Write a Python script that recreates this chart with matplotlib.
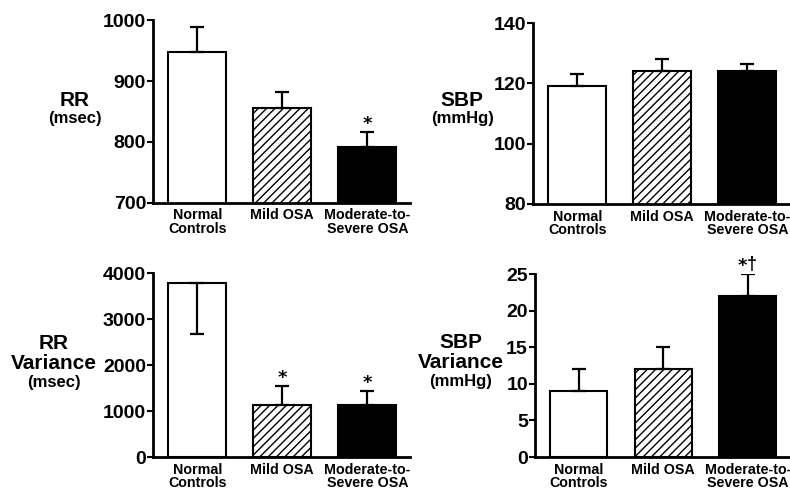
import matplotlib
matplotlib.use("Agg")
import matplotlib.pyplot as plt
import numpy as np

plt.rcParams['font.family'] = ['Liberation Sans', 'DejaVu Sans']
plt.rcParams['font.weight'] = 'bold'
plt.rcParams['hatch.linewidth'] = 1.0

categories = ["Normal\nControls", "Mild OSA", "Moderate-to-\nSevere OSA"]

rr_mean = [947, 856, 791]
rr_err = [41, 26, 26]
rr_sig = ["", "", "*"]

sbp_mean = [119, 124, 124]
sbp_err = [4, 4, 2.5]
sbp_sig = ["", "", ""]

rrvar_mean = [3780, 1130, 1130]
rrvar_err = [1110, 420, 310]
rrvar_err_dir = ["down", "up", "up"]
rrvar_sig = ["", "*", "*"]

sbpvar_mean = [9, 12, 22]
sbpvar_err = [3, 3, 3]
sbpvar_sig = ["", "", "*\u2020"]

panels = [
    dict(rect=[0.1937, 0.586, 0.325, 0.373], mean=rr_mean, err=rr_err, dirs=None,
         sig=rr_sig, ylim=(700, 1000), yticks=[700, 800, 900, 1000],
         label=["RR", "(msec)"], lpos=(0.095, [0.794, 0.758])),
    dict(rect=[0.6747, 0.5837, 0.325, 0.369], mean=sbp_mean, err=sbp_err, dirs=None,
         sig=sbp_sig, ylim=(80, 140), yticks=[80, 100, 120, 140],
         label=["SBP", "(mmHg)"], lpos=(0.585, [0.794, 0.759])),
    dict(rect=[0.1937, 0.0673, 0.325, 0.3755], mean=rrvar_mean, err=rrvar_err, dirs=rrvar_err_dir,
         sig=rrvar_sig, ylim=(0, 4000), yticks=[0, 1000, 2000, 3000, 4000],
         label=["RR", "Variance", "(msec)"], lpos=(0.068, [0.300, 0.259, 0.220])),
    dict(rect=[0.677, 0.0673, 0.323, 0.3735], mean=sbpvar_mean, err=sbpvar_err, dirs=None,
         sig=sbpvar_sig, ylim=(0, 25), yticks=[0, 5, 10, 15, 20, 25],
         label=["SBP", "Variance", "(mmHg)"], lpos=(0.583, [0.302, 0.261, 0.222])),
]

fig = plt.figure(figsize=(7.9, 4.9), dpi=100)

x = np.arange(len(categories))
faces = ["white", "white", "black"]
hatches = [None, "////", None]

for p in panels:
    ax = fig.add_axes(p["rect"])
    for i in range(len(categories)):
        ax.bar(x[i], p["mean"][i], width=0.68, bottom=0, color=faces[i],
               edgecolor="black", linewidth=1.5, hatch=hatches[i], zorder=2)
        d = p["dirs"][i] if p["dirs"] else "up"
        if d == "up":
            yerr = [[0], [p["err"][i]]]
        else:
            yerr = [[p["err"][i]], [0]]
        ax.errorbar(x[i], p["mean"][i], yerr=yerr, fmt="none", ecolor="black",
                    elinewidth=1.6, capsize=5, capthick=1.6, zorder=3)
        sig = p["sig"][i]
        if sig:
            top = p["mean"][i] + (p["err"][i] if d == "up" else 0)
            if len(sig) == 1:
                offs = [0]
            else:
                offs = [-3.8, 2.6]
            for k, ch in enumerate(sig):
                if ch == "*":
                    ax.annotate(ch, (x[i], top), xytext=(offs[k], -1), textcoords="offset points",
                                ha="center", va="bottom", fontsize=13, fontweight="bold",
                                family=["DejaVu Sans"])
                else:
                    ax.annotate(ch, (x[i], top), xytext=(offs[k], 1), textcoords="offset points",
                                ha="center", va="bottom", fontsize=13, fontweight="bold")
    ax.set_xlim(-0.52, 2.5)
    ax.set_ylim(*p["ylim"])
    ax.set_yticks(p["yticks"])
    ax.set_xticks(x)
    ax.set_xticklabels(categories, fontsize=10.3, fontweight="bold", linespacing=0.95)
    ax.tick_params(axis="x", length=0, pad=4)
    ax.tick_params(axis="y", length=4, width=1.5, pad=1, labelsize=14, direction="out")
    for t in ax.get_yticklabels():
        t.set_fontweight("bold")
    for s in ["top", "right"]:
        ax.spines[s].set_visible(False)
    for s in ["left", "bottom"]:
        ax.spines[s].set_linewidth(2)
    ax.patch.set_alpha(0)
    lx, lys = p["lpos"]
    for j, (txt, ly) in enumerate(zip(p["label"], lys)):
        big = not txt.startswith("(")
        fig.text(lx, ly, txt, ha="center", va="center",
                 fontsize=15 if big else 12, fontweight="bold")

fig.savefig("out.png", dpi=100, facecolor="white")
